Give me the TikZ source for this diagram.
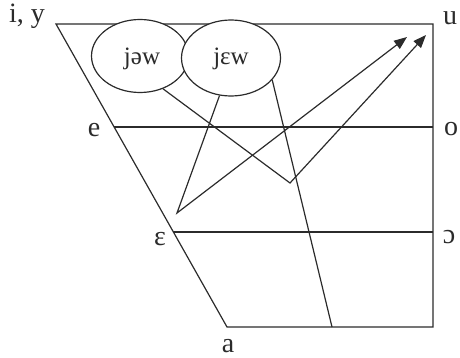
\documentclass[tikz,border=0pt]{standalone}
\usepackage{fontspec}
\setmainfont{Liberation Serif}
\usetikzlibrary{arrows.meta,shapes.geometric}
\definecolor{vowline}{HTML}{2B2B2B}

\begin{document}
\begin{tikzpicture}[
    x=1pt, y=-1pt,
    font=\fontsize{28}{32}\selectfont,
    frame/.style={draw=vowline, line width=1.2pt},
    vlabel/.style={anchor=base, inner sep=0pt, text=vowline},
    diph/.style={draw=vowline, ellipse, fill=white, line width=1.2pt,
                 minimum width=97pt, minimum height=73pt, inner sep=0pt},
    diphtext/.style={vlabel, font=\fontsize{25}{30}\selectfont},
    glide/.style={draw=vowline, line width=1.2pt},
    arrow/.style={-{Triangle[length=13pt, width=10pt]}, line width=1.2pt, draw=vowline}
]
\useasboundingbox (0,0) rectangle (460,358);

\coordinate (tl) at (56,24);
\coordinate (tr) at (433,24);
\coordinate (br) at (433,327);
\coordinate (bl) at (227,327);
\coordinate (el) at (114,127);
\coordinate (er) at (433,127);
\coordinate (ol) at (173,232);
\coordinate (or) at (433,232);

\draw[frame] (tl) -- (tr) -- (br) -- (bl) -- cycle;
\draw[frame] (el) -- (er);
\draw[frame] (ol) -- (or);

\node[vlabel] (iy) at (27,23) {i, y};
\node[vlabel] (u) at (450,25) {u};
\node[vlabel] (e) at (94,137) {e};
\node[vlabel] (o) at (451,136) {o};
\node[vlabel] (eps) at (160,245) {ɛ};
\node[vlabel] (oo) at (449,243) {ɔ};
\node[vlabel] (a) at (228,352) {a};

\node[diph] (jaw) at (140,56) {};
\node[diph, minimum width=99pt, minimum height=76pt] (jew) at (231,58) {};
\node[diphtext] (jawtxt) at (142,65) {jəw};
\node[diphtext] (jewtxt) at (231,65) {jɛw};

\coordinate (turnA) at (290,183);
\coordinate (tipA) at (426,35);
\coordinate (turnB) at (177,213);
\coordinate (tipB) at (407,37);
\coordinate (footC) at (332,327);

\draw[arrow] (jaw.-55) -- (turnA) -- (tipA);
\draw[arrow] (jew.-107) -- (turnB) -- (tipB);
\draw[glide] (jew.-28) -- (footC);
\end{tikzpicture}
\end{document}
